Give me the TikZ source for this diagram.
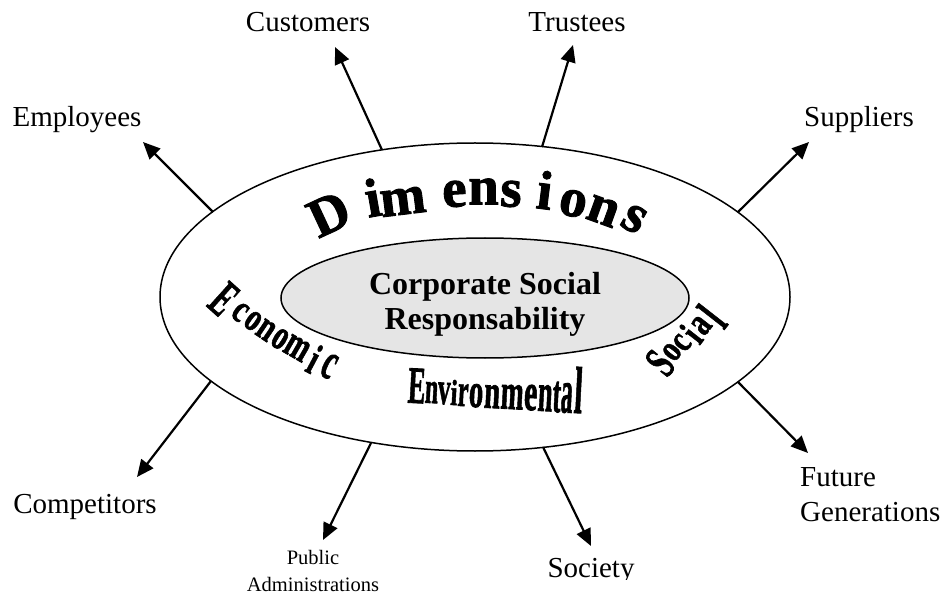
\documentclass[tikz,border=0pt]{standalone}
\usepackage{fontspec}
\setmainfont{Liberation Serif}
\newfontfamily\heavyserif{Liberation Serif}[FakeBold=1.6]
\usepackage{graphicx}
\usetikzlibrary{arrows.meta}

\begin{document}
\begin{tikzpicture}[x=1pt,y=-1pt,
  lbl/.style={font=\fontsize{29}{35}\selectfont, inner sep=0pt},
  smalllbl/.style={font=\fontsize{20.5}{27}\selectfont, inner sep=0pt, align=center},
  link/.style={line width=2.2pt, -{Triangle[length=17pt,width=15pt]}},
  ring/.style={line width=1.5pt},
  arch/.style={inner sep=0pt, font=\heavyserif\bfseries\fontsize{55}{55}\selectfont},
  wave/.style={inner sep=0pt, font=\heavyserif\bfseries\fontsize{25}{25}\selectfont}]
\useasboundingbox (0,0) rectangle (943,596);

% the two ellipses
\draw[ring] (475,297) ellipse [x radius=315, y radius=154];
\draw[ring, fill=gray!20] (485,298) ellipse [x radius=204, y radius=60];
\node[font=\bfseries\fontsize{32}{35}\selectfont, align=center, inner sep=0pt, anchor=north]
  (csr) at (485,272) {Corporate Social\\Responsability};

% arched title
\foreach \ch/\px/\py/\ang [count=\k] in
  {D/329/214/25, i/372.5/197.5/10, m/403/201.5/7, e/454.5/194/3, n/483.5/191.5/0,
   s/511/194/-3, i/545/190/-7, o/573/203.5/-12, n/603/211/-20, s/634/219/-30}
  \node[arch, rotate=\ang] (dim\k) at (\px,\py) {\ch};

% the three dimensions
\foreach \ch/\px/\py/\ang/\sx/\sy [count=\k] in
  {E/224/299/-42/1.1/2.1, c/240/312/-38/1.15/1.6, o/253/321/-36/1.15/1.6,
   n/266/330/-34/1.15/1.65, o/280/339/-32/1.15/1.7, m/297/348/-30/1.15/1.75,
   i/314.5/359/-28/1.15/1.75, c/329/366/-26/1.15/2.1}
  \node[wave, rotate=\ang] (eco\k) at (\px,\py) {\scalebox{\sx}[\sy]{\ch}};

\foreach \ch/\px/\py/\sx/\sy [count=\k] in
  {E/416/403/1.05/2.1, n/431/403/0.95/1.8, v/443.5/404/1.0/1.85, i/453.5/405/1.0/1.45,
   r/462.5/406/0.95/1.85, o/475.5/407/1.15/1.95, n/491.5/408/1.15/1.95, m/511.5/409/1.1/2.05,
   e/530/410/1.2/2.15, n/544.5/411/1.05/2.2, t/556/412/1.0/2.15, a/566/412.5/0.95/2.5,
   l/577.5/413/1.2/2.65}
  \node[wave, anchor=base, rotate=-3] (env\k) at (\px,\py) {\scalebox{\sx}[\sy]{\ch}};

\foreach \ch/\px/\py/\sx/\sy [count=\k] in
  {S/660/363/1.15/1.85, o/672/352/1.15/1.5, c/682/343/1.15/1.5, i/691/334/1.15/1.6,
   a/701.5/325.5/1.15/1.6, l/712/316/1.15/2.1}
  \node[wave, rotate=52] (soc\k) at (\px,\py) {\scalebox{\sx}[\sy]{\ch}};

% stakeholders
\node[lbl, anchor=base] (cust) at (308,32) {Customers};
\node[lbl, anchor=base] (trus) at (577,32) {Trustees};
\node[lbl, anchor=base] (empl) at (77,127) {Employees};
\node[lbl, anchor=base] (supp) at (859,127) {Suppliers};
\node[lbl, anchor=base] (comp) at (85,513) {Competitors};
\node[lbl, align=left, anchor=north west] (futu) at (800,467) {Future\\Generations};
\node[smalllbl, anchor=north] (publ) at (313,550) {Public\\Administrations};
\begin{scope}
  \clip (500,530) rectangle (700,579);
  \node[lbl, anchor=base] (soci) at (591,577) {Society};
\end{scope}

% points where the arrows leave the outer ellipse
\coordinate (oCust) at (382,150);
\coordinate (oTrus) at (542,147);
\coordinate (oEmpl) at (213,212);
\coordinate (oSupp) at (738,212);
\coordinate (oComp) at (211,381);
\coordinate (oPubl) at (371,443);
\coordinate (oSoci) at (543,447);
\coordinate (oFutu) at (738,382);

% arrow tips, just short of each label
\coordinate (tCust) at (335,47);
\coordinate (tTrus) at (573,45);
\coordinate (tEmpl) at (143,142);
\coordinate (tSupp) at (809,142);
\coordinate (tComp) at (137,477);
\coordinate (tPubl) at (323,540);
\coordinate (tSoci) at (591,546);
\coordinate (tFutu) at (808,453);

\foreach \n in {Cust,Trus,Empl,Supp,Comp,Publ,Soci,Futu}
  \draw[link] (o\n) -- (t\n);
\end{tikzpicture}
\end{document}
